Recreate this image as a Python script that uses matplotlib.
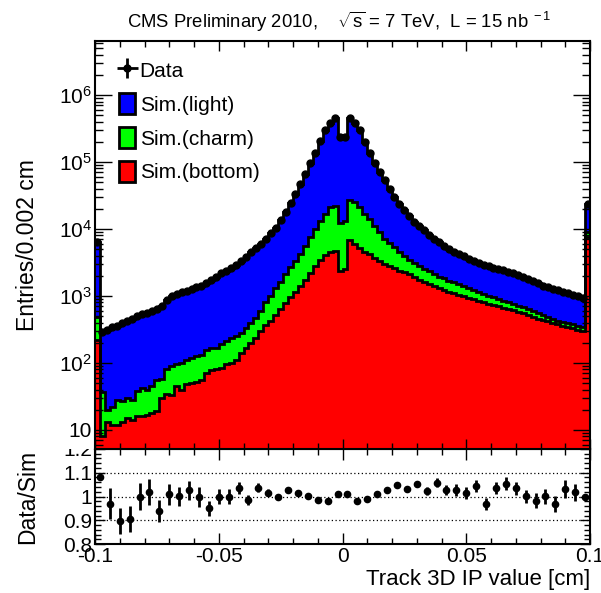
import numpy as np
import matplotlib
matplotlib.use("Agg")
import matplotlib.pyplot as plt
from matplotlib.ticker import FixedLocator, MultipleLocator, LogLocator, NullFormatter, FuncFormatter, FixedFormatter
from matplotlib.patches import Rectangle, Patch

plt.rcParams['font.family'] = ['Liberation Sans', 'DejaVu Sans']
plt.rcParams['mathtext.fontset'] = 'custom'
plt.rcParams['mathtext.rm'] = 'Liberation Sans'
plt.rcParams['mathtext.it'] = 'Liberation Sans:italic'
plt.rcParams['mathtext.bf'] = 'Liberation Sans:bold'

# ---------------- data ----------------
x_range = (-0.1, 0.1)
n_bins = 100

# stacked heights (top of each layer)
stack_light = [
    6500, 290, 310, 340, 360, 395, 420, 450, 500, 530,
    565, 600, 650, 720, 860, 1000, 1080, 1140, 1200, 1270,
    1340, 1420, 1560, 1760, 1950, 2200, 2400, 2650, 2950, 3300,
    3800, 4500, 5200, 6000, 7200, 8800, 10500, 13500, 18000, 24500,
    33000, 47000, 66000, 95000, 135000, 205000, 300000, 380000, 450000, 240000,
    240000, 450000, 380000, 300000, 200000, 136000, 96000, 70000, 53000, 40000,
    30000, 24000, 19000, 15500, 12800, 11000, 9500, 8000, 7100, 6300,
    5600, 5100, 4600, 4200, 3900, 3600, 3300, 3100, 2950, 2800,
    2650, 2550, 2450, 2300, 2180, 2050, 1900, 1780, 1650, 1540,
    1430, 1360, 1280, 1220, 1160, 1100, 1040, 990, 940, 24000]

stack_charm = [
    490, 37, 20, 22, 28, 27, 30, 28, 38, 42,
    40, 45, 55, 58, 80, 90, 95, 100, 112, 120,
    125, 130, 155, 170, 165, 195, 210, 240, 250, 280,
    330, 400, 470, 600, 800, 1000, 1300, 1600, 2100, 2700,
    3300, 4300, 5500, 7500, 10000, 13000, 17000, 21000, 22000, 12500,
    13000, 27000, 25000, 21500, 17000, 14000, 11000, 9000, 7200, 6200,
    5400, 4500, 3900, 3500, 3100, 2800, 2550, 2350, 2150, 1950,
    1850, 1700, 1600, 1500, 1400, 1300, 1220, 1150, 1080, 1000,
    960, 900, 840, 800, 760, 720, 680, 640, 600, 560,
    520, 490, 460, 430, 410, 390, 380, 360, 340, 9100]

stack_bottom = [
    220, 8, 13, 12, 12, 13, 15, 14, 16, 16,
    17, 18, 19, 30, 35, 33, 45, 40, 48, 50,
    52, 55, 70, 78, 80, 85, 95, 100, 110, 140,
    170, 200, 240, 300, 370, 430, 520, 650, 780, 950,
    1150, 1400, 1750, 2200, 2800, 3400, 4100, 4600, 4700, 2400,
    2500, 6800, 6000, 5200, 4600, 4200, 3700, 3300, 3000, 2800,
    2600, 2400, 2250, 2100, 1900, 1750, 1600, 1500, 1400, 1300,
    1230, 1160, 1100, 1040, 990, 940, 890, 850, 810, 770,
    730, 700, 670, 640, 610, 580, 550, 520, 490, 460,
    440, 420, 400, 380, 360, 345, 330, 315, 300, 7600]

data_counts = list(stack_light)

ratio_values = [
    1.080, 0.969, 0.898, 0.905, 1.000, 1.018, 0.938, 1.009, 1.001, 1.026,
    0.997, 0.950, 1.000, 1.000, 1.037, 0.986, 1.037, 1.016, 1.000, 1.026,
    1.014, 1.004, 0.986, 0.983, 1.009, 1.009, 0.983, 0.990, 1.009, 1.028,
    1.050, 1.030, 1.052, 1.023, 1.057, 1.028, 1.028, 1.014, 1.043, 0.969,
    1.035, 1.054, 1.035, 1.001, 0.983, 1.001, 0.969, 1.031, 1.017, 0.997]
ratio_errors = [
    0.006, 0.065, 0.055, 0.056, 0.055, 0.055, 0.046, 0.043, 0.040, 0.040,
    0.042, 0.032, 0.030, 0.030, 0.025, 0.022, 0.018, 0.015, 0.012, 0.010,
    0.008, 0.007, 0.006, 0.006, 0.006, 0.006, 0.006, 0.006, 0.007, 0.008,
    0.010, 0.012, 0.014, 0.018, 0.019, 0.022, 0.024, 0.025, 0.026, 0.025,
    0.026, 0.027, 0.028, 0.028, 0.032, 0.032, 0.033, 0.037, 0.037, 0.008]

legend_labels = ["Data", "Sim.(light)", "Sim.(charm)", "Sim.(bottom)"]
colors = {"light": "#0000ff", "charm": "#00ff00", "bottom": "#ff0000"}
x_tick_labels = ["-0.1", "-0.05", "0", "0.05", "0.1"]
r_tick_labels = ["0.8", "0.9", "1", "1.1", "1.2"]

# ---------------- figure ----------------
W, H = 601, 593
fig = plt.figure(figsize=(W / 100, H / 100), dpi=100)
ax = fig.add_axes([95 / W, 1 - 449 / H, 495 / W, 408 / H])
rax = fig.add_axes([95 / W, 1 - 544 / H, 495 / W, 95 / H], sharex=ax)
rax.set_zorder(0)
ax.set_zorder(2)
cover = Rectangle((0, 1 - 449 / H), 94 / W, 449 / H, transform=fig.transFigure,
                  facecolor='white', edgecolor='none', zorder=1)
fig.add_artist(cover)

edges = np.linspace(x_range[0], x_range[1], n_bins + 1)
centers = 0.5 * (edges[:-1] + edges[1:])
half_w = 0.5 * (edges[1] - edges[0])

for vals, key in [(stack_light, "light"), (stack_charm, "charm"), (stack_bottom, "bottom")]:
    ax.stairs(vals, edges, baseline=1e-3, fill=True, color=colors[key], zorder=1)
    ax.stairs(vals, edges, baseline=None, color='black', lw=2.0, zorder=2)

dc = np.array(data_counts, dtype=float)
data_cont = ax.errorbar(centers, dc, xerr=half_w, yerr=np.sqrt(dc), fmt='o', color='black',
                        ms=5, lw=2.0, capsize=0, zorder=3)

ax.set_yscale('log')
ax.set_xlim(*x_range)
ax.set_ylim(5.2, 6.4e6)


def log_fmt(v, pos):
    n = int(round(np.log10(v)))
    if n == 1:
        return '10'
    return r'$\mathregular{10^{%d}}$' % n


ax.yaxis.set_major_locator(LogLocator(base=10, numticks=12))
ax.yaxis.set_minor_locator(LogLocator(base=10, subs=np.arange(2, 10), numticks=12))
ax.yaxis.set_major_formatter(FuncFormatter(log_fmt))
ax.yaxis.set_minor_formatter(NullFormatter())

ax.xaxis.set_major_locator(MultipleLocator(0.05))
ax.xaxis.set_minor_locator(MultipleLocator(0.01))
ax.tick_params(axis='x', which='both', labelbottom=False)

for a in (ax, rax):
    a.tick_params(which='both', direction='in', top=True, right=True, width=1)
    for s in a.spines.values():
        s.set_linewidth(1.5)
ax.tick_params(axis='y', which='major', length=12, labelsize=15, pad=2)
ax.tick_params(axis='y', which='minor', length=6)
ax.tick_params(axis='x', which='major', length=7)
ax.tick_params(axis='x', which='minor', length=4)

ax.set_ylabel('Entries/0.002 cm', fontsize=16.5)
ax.yaxis.set_label_coords(-0.113, 0.5)

handles = [data_cont,
           Patch(facecolor=colors['light'], edgecolor='black', lw=2, joinstyle='round'),
           Patch(facecolor=colors['charm'], edgecolor='black', lw=2, joinstyle='round'),
           Patch(facecolor=colors['bottom'], edgecolor='black', lw=2, joinstyle='round')]
ax.legend(handles, legend_labels, loc='upper left', bbox_to_anchor=(0.048, 0.955),
          frameon=False, fontsize=15, handlelength=0.8, handleheight=1.15,
          handletextpad=0.2, labelspacing=0.6, borderaxespad=0, borderpad=0)

# ratio panel
r_centers = np.linspace(x_range[0] + 0.002, x_range[1] - 0.002, len(ratio_values))
for yv in (0.9, 1.0, 1.1):
    rax.axhline(yv, color='black', lw=0.9, ls=(0, (1, 2)), zorder=1)
rax.errorbar(r_centers, ratio_values, yerr=ratio_errors, fmt='o', color='black',
             ms=4.5, lw=2.0, capsize=0, zorder=3)
rax.set_ylim(0.8, 1.2)
rax.set_xlim(*x_range)
rax.yaxis.set_major_locator(FixedLocator([0.8, 0.9, 1.0, 1.1, 1.2]))
rax.yaxis.set_major_formatter(FixedFormatter(r_tick_labels))
rax.yaxis.set_minor_locator(MultipleLocator(0.02))
rax.xaxis.set_major_locator(FixedLocator([-0.1, -0.05, 0.0, 0.05, 0.1]))
rax.xaxis.set_major_formatter(FixedFormatter(x_tick_labels))
rax.xaxis.set_minor_locator(MultipleLocator(0.01))
rax.tick_params(axis='both', which='major', labelsize=15, pad=2)
rax.tick_params(axis='x', which='major', length=8)
rax.tick_params(axis='x', which='minor', length=4)
rax.tick_params(axis='y', which='major', length=7)
rax.tick_params(axis='y', which='minor', length=4)
rax.set_ylabel('Data/Sim', fontsize=16.5)
rax.yaxis.set_label_coords(-0.113, 0.5)
rax.set_xlabel('Track 3D IP value [cm]', fontsize=16, loc='right', labelpad=2)

fig.text(339 / W, 1 - 22 / H,
         r'CMS Preliminary 2010,    $\mathregular{\sqrt{s}}$ = 7 TeV,  L = 15 nb$^{\mathregular{\ -1}}$',
         ha='center', va='center', fontsize=13.3)

fig.savefig('out.png', dpi=100)
